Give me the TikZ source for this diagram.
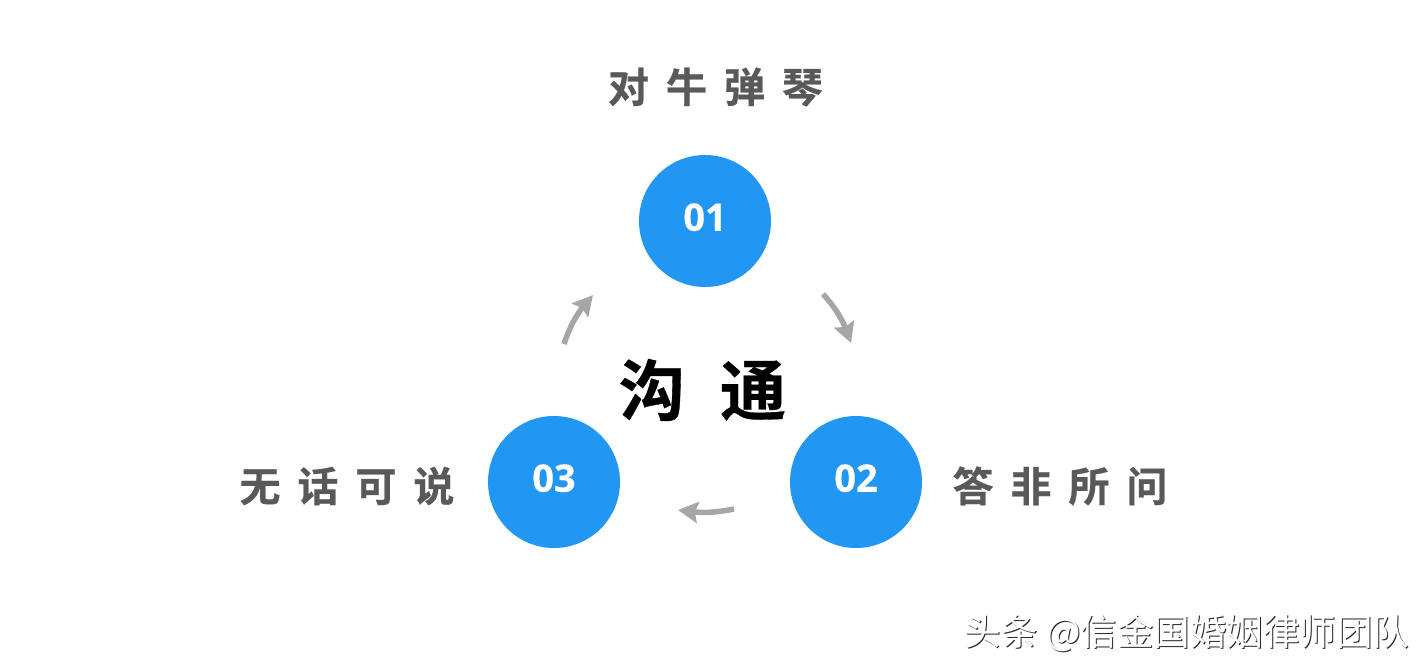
\documentclass[tikz,border=0pt]{standalone}
\usepackage{fontspec}
\usetikzlibrary{arrows.meta,bending}
\setmainfont[BoldFeatures={FakeBold=0.3}]{Open Sans}
\newfontfamily\cjk[BoldFont={Noto Sans CJK SC Bold},BoldFeatures={FakeBold=0.5}]{Noto Sans CJK SC}
\definecolor{dotblue}{HTML}{2196F3}
\definecolor{labelgrey}{HTML}{595959}
\definecolor{arrowgrey}{HTML}{A6A6A6}
\tikzset{
  x=1pt,y=-1pt,
  dot/.style={circle,fill=dotblue,minimum size=132pt,inner sep=0pt,text=white,font=\fontsize{38}{38}\selectfont\bfseries},
  lab/.style={text=labelgrey,inner sep=0pt,font=\fontsize{41}{41}\selectfont\cjk\bfseries},
  flow/.style={draw=arrowgrey,line width=5.5pt,-{Stealth[length=20pt,width=21pt,inset=3pt,flex=1]}},
}
\newcommand{\gp}{\hspace{17pt}}
\begin{document}
\begin{tikzpicture}
\useasboundingbox (0,0) rectangle (1427,672);
\fill[white] (0,0) rectangle (1427,672);
\node[dot] (a) at (705,221) {\raisebox{8pt}{01}};
\node[dot] (b) at (856,482) {\raisebox{8pt}{02}};
\node[dot] (c) at (554,482) {\raisebox{8pt}{03}};
\node[lab] (la) at (715.5,87) {对\gp 牛\gp 弹\gp 琴};
\node[lab] (lb) at (1060,486) {答\gp 非\gp 所\gp 问};
\node[lab] (lc) at (347,486) {无\gp 话\gp 可\gp 说};
\node[inner sep=0pt,font=\fontsize{66}{66}\selectfont\cjk\bfseries] (t) at (702.5,390) {沟\hspace{35pt}通};
\coordinate (a1) at (823,294); \coordinate (a2) at (851,343);
\coordinate (b1) at (734,509); \coordinate (b2) at (678,510);
\coordinate (c1) at (564,344); \coordinate (c2) at (593,295);
\draw[flow] (a1) to[bend left=12] (a2);
\draw[flow] (b1) to[bend left=10] (b2);
\draw[flow] (c1) to[bend left=12] (c2);
\node[inner sep=0pt,text=black!85,font=\fontsize{36.5}{36.5}\selectfont\cjk] (w2) at (1188,634.5) {头条 @信金国婚姻律师团队};
\node[inner sep=0pt,text=white,font=\fontsize{36.5}{36.5}\selectfont\cjk] (w1) at (1187,633.5) {头条 @信金国婚姻律师团队};
\end{tikzpicture}
\end{document}
